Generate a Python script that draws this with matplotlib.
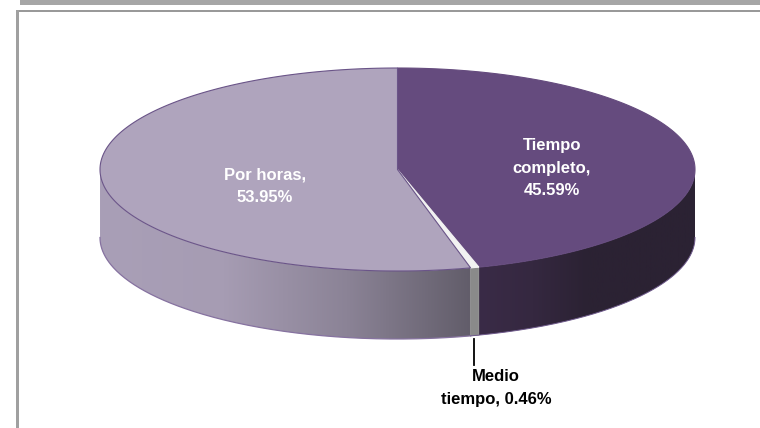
"""Pie 3D: tipo de jornada (Tiempo completo / Medio tiempo / Por horas)."""
import matplotlib

matplotlib.use("Agg")
import matplotlib.pyplot as plt
import numpy as np
from matplotlib.colors import LinearSegmentedColormap
from matplotlib.patches import Polygon, Rectangle

categories = ["Tiempo completo", "Medio tiempo", "Por horas"]
values = [45.59, 0.46, 53.95]
label_texts = ["Tiempo\ncompleto,\n45.59%", "Medio\ntiempo, 0.46%", "Por horas,\n53.95%"]

W, H = 760, 428
CX, CY, A, B, DEPTH = 397.5, 169.5, 297.5, 101.5, 68

TOP_COLORS = ["#654b7e", "#f2f2f2", "#afa4bd"]
EDGE = "#6a5488"


def rim(start, stop, n=200):
    t = np.radians(np.linspace(start, stop, n))
    return CX + A * np.sin(t), CY - B * np.cos(t)


def wall(start, stop):
    x, y = rim(start, stop)
    return np.r_[np.c_[x, y], np.c_[x[::-1], y[::-1] + DEPTH]]


def gradient_wall(start, stop, colors):
    # colors van de izquierda a derecha
    poly = Polygon(wall(start, stop), fc="none", ec="none", transform=ax.transData)
    ax.add_patch(poly)
    xs = poly.get_xy()[:, 0]
    cmap = LinearSegmentedColormap.from_list("side", colors)
    im = ax.imshow(np.linspace(0, 1, 256)[None, :], cmap=cmap, aspect="auto",
                   extent=(xs.min(), xs.max(), H, 0), zorder=1)
    im.set_clip_path(poly)


fig = plt.figure(figsize=(W / 100, H / 100), dpi=100)
ax = fig.add_axes([0, 0, 1, 1])
ax.axis("off")

# marco
ax.add_patch(Rectangle((20, 0), W - 20, 4.7, color="#a6a6a6", lw=0))
ax.add_patch(Rectangle((16, 10), W - 16, 2.2, color="#999999", lw=0))
ax.add_patch(Rectangle((16, 10), 2.6, H - 10, color="#a0a0a0", lw=0))

edges = np.concatenate([[0], np.cumsum(values)]) * 3.6

# costados: solo la mitad visible (90..270 grados)
gradient_wall(90, edges[1], ["#3a2b47", "#352840", "#2b2233", "#2b2233", "#2b2233"])
gradient_wall(edges[2], 270, ["#a99fb7", "#a69cb3", "#8b8396", "#625d6a"])
ax.add_patch(Polygon(wall(edges[1], edges[2]), fc="#8a8a8a", ec="#8a8a8a", lw=0.4, zorder=2))

# borde inferior
x, y = rim(edges[2], 270)
ax.plot(x, y + DEPTH, color="#8672a0", lw=0.9, zorder=2)
x, y = rim(90, edges[2])
ax.plot(x, y + DEPTH, color="#6f5a8c", lw=0.7, zorder=2)

# tapa
for i, col in enumerate(TOP_COLORS):
    x, y = rim(edges[i], edges[i + 1])
    ec = col if i < 2 else EDGE
    ax.add_patch(Polygon(np.r_[[[CX, CY]], np.c_[x, y]], fc=col, ec=ec, lw=0.8, zorder=3))

# guia y etiquetas
ax.plot([473.5, 473.5], [339, 365], color="black", lw=1.3, zorder=4)
txt = dict(family="Liberation Sans", weight="bold", fontsize=12, ha="center", va="center",
           linespacing=1.65, zorder=5)
ax.text(552, 168, label_texts[0], color="white", **txt)
ax.text(265, 186, label_texts[2], color="white", **txt)
ax.text(496, 388, label_texts[1], color="black", **txt)

ax.set_xlim(0, W)
ax.set_ylim(H, 0)
fig.savefig("out.png", dpi=100)
